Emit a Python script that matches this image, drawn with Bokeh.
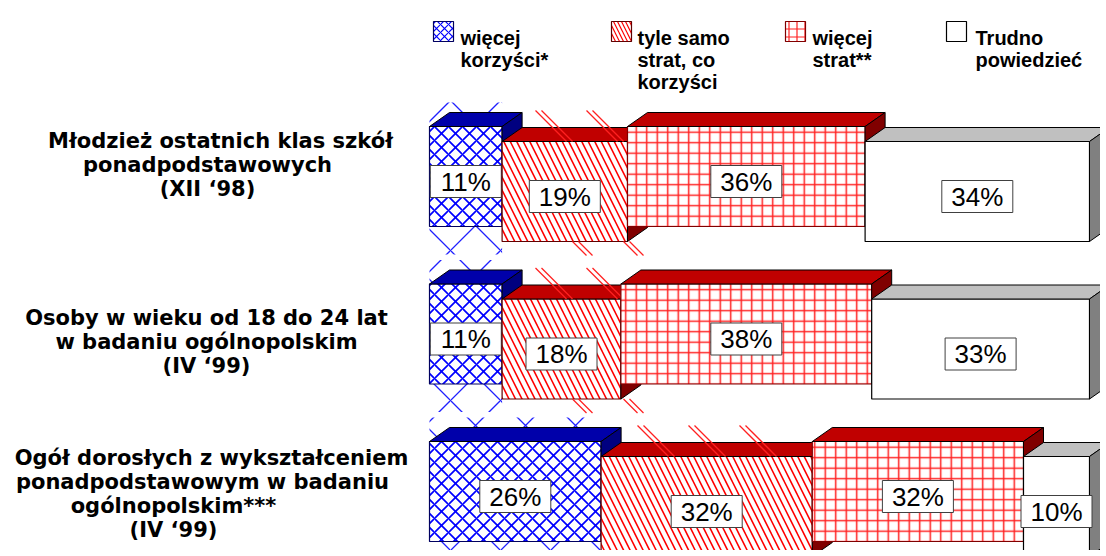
from bokeh.plotting import figure
from bokeh.models import Range1d
from bokeh.core.properties import value
from bokeh.embed import file_html
from bokeh.resources import INLINE

# ---------------- data ----------------
category_lines = [
    ["Młodzież ostatnich klas szkół", "ponadpodstawowych", "(XII ‘98)"],
    ["Osoby w wieku od 18 do 24 lat", "w badaniu ogólnopolskim", "(IV ‘99)"],
    ["Ogół dorosłych z wykształceniem", "ponadpodstawowym w badaniu", "ogólnopolskim***", "(IV ‘99)"],
]
series_names = ["więcej korzyści*", "tyle samo strat, co korzyści", "więcej strat**", "Trudno powiedzieć"]
legend_lines = [["więcej", "korzyści*"], ["tyle samo", "strat, co", "korzyści"], ["więcej", "strat**"], ["Trudno", "powiedzieć"]]
wiecej_korzysci = [11, 11, 26]
tyle_samo = [19, 18, 32]
wiecej_strat = [36, 38, 32]
trudno_powiedziec = [34, 33, 10]
series_values = [wiecej_korzysci, tyle_samo, wiecej_strat, trudno_powiedziec]

# ---------------- styles ----------------
hatch_patterns = ["diagonal_cross", "left_diagonal_line", "cross", " "]
hatch_colors = ["#0000FF", "#FF0000", "#FF2020", "#FFFFFF"]
hatch_scales = [14, 13, 10.5, 10]
hatch_weights = [1.7, 1.6, 1.5, 1]
top_colors = ["#0000AA", "#C00000", "#C00000", "#C0C0C0"]
side_colors = ["#000080", "#800000", "#800000", "#808080"]
edge_colors = ["#000060", "#600000", "#800000", "#000000"]

W, H = 1100, 550
PX = 6.6            # pixels per percent
X0 = 429            # page x of 0 %
ROWPX = 157.5       # pixels between rows
Y0 = 176            # page y of first row centre

def px2x(px):
    return (px - X0) / PX

def py2y(py):
    return (py - Y0) / ROWPX

BAR_H = 100 / ROWPX
DX = 20 / PX
DY = 14 / ROWPX
STAGGER = 15 / ROWPX

p = figure(width=W, height=H, output_backend="svg", toolbar_location=None,
           x_range=Range1d(px2x(0), px2x(W)),
           y_range=Range1d(py2y(H), py2y(0)),
           min_border=0)
p.axis.visible = False
p.grid.visible = False
p.outline_line_color = None
p.background_fill_color = "white"
p.border_fill_color = "white"

# ---------------- bars ----------------
for s, vals in enumerate(series_values):
    lefts, rights, tops, bottoms, yc = [], [], [], [], []
    for r, v in enumerate(vals):
        left = sum(series_values[k][r] for k in range(s))
        right = left + v
        c = r + (STAGGER if s % 2 == 1 else 0)
        lefts.append(left); rights.append(right)
        tops.append(c - BAR_H / 2); bottoms.append(c + BAR_H / 2); yc.append(c)

    # stray hatch strokes that spill outside the patterned boxes (as in the original rendering)
    if s == 0:
        p.quad(left=lefts, right=rights, top=[t - 24 / ROWPX for t in tops], bottom=tops,
               fill_alpha=0, line_alpha=0, hatch_pattern="diagonal_cross",
               hatch_color="#2020FF", hatch_scale=50, hatch_weight=1.3)
        p.quad(left=lefts, right=rights, top=bottoms, bottom=[b + 28 / ROWPX for b in bottoms],
               fill_alpha=0, line_alpha=0, hatch_pattern="diagonal_cross",
               hatch_color="#2020FF", hatch_scale=50, hatch_weight=1.3)

    p.quad(left=lefts, right=rights, top=tops, bottom=bottoms,
           fill_color="white", hatch_pattern=hatch_patterns[s], hatch_color=hatch_colors[s],
           hatch_scale=hatch_scales[s], hatch_weight=hatch_weights[s],
           line_color=edge_colors[s], line_width=1.2)
    top_xs = [[l, l + DX, rr + DX, rr] for l, rr in zip(lefts, rights)]
    top_ys = [[t, t - DY, t - DY, t] for t in tops]
    p.patches(top_xs, top_ys, fill_color=top_colors[s], line_color="black", line_width=1)

    if s == 1:
        # sparse double diagonal strokes above and below the hatched box
        x0s, y0s, x1s, y1s = [], [], [], []
        for l, rr, t, b in zip(lefts, rights, tops, bottoms):
            k = 0
            while True:
                gx = px2x(535 + 51 * k)
                k += 1
                if gx < l:
                    continue
                if gx + 30 / PX > rr:
                    break
                for off in (0, 6):
                    x0s.append(gx + off / PX); y0s.append(t - 31 / ROWPX)
                    x1s.append(gx + (off + 31) / PX); y1s.append(t)
                    x0s.append(gx + (off + 37) / PX); y0s.append(b)
                    x1s.append(gx + (off + 51) / PX); y1s.append(b + 14 / ROWPX)
        p.segment(x0=x0s, y0=y0s, x1=x1s, y1=y1s, line_color="#FF2020", line_width=1.3)

    side_xs = [[rr, rr + DX, rr + DX, rr] for rr in rights]
    side_ys = [[t, t - DY, b - DY, b] for t, b in zip(tops, bottoms)]
    p.patches(side_xs, side_ys, fill_color=side_colors[s], line_color="black", line_width=1)
    lx = [(l + rr) / 2 for l, rr in zip(lefts, rights)]
    ly = [c + 5 / ROWPX for c in yc]
    p.rect(x=lx, y=ly, width=71, height=32, width_units="screen", height_units="screen",
           fill_color="white", line_color="#404040", line_width=1)
    p.text(x=lx, y=ly, text=[f"{v}%" for v in vals], text_align="center", text_baseline="middle",
           text_font=value("Liberation Sans"), text_font_size="26px", text_color="black")

# ---------------- category labels ----------------
first_baselines = [140, 317, 457]
line_centres = [[220, 207, 207], [206, 206, 206], [211, 202, 173, 173]]
LINE_GAP = 24.3
for r, lines in enumerate(category_lines):
    xs = [px2x(c) for c in line_centres[r]]
    ys = [py2y(first_baselines[r] + i * LINE_GAP) for i in range(len(lines))]
    p.text(x=xs, y=ys, text=lines, text_align="center", text_baseline="alphabetic",
           text_font=value("DejaVu Sans"), text_font_style="bold", text_font_size="21px",
           text_color="black")

# ---------------- legend ----------------
sw_left = [433, 611, 785, 946]
txt_left = [460, 637, 812, 975]
for s, name in enumerate(series_names):
    p.rect(x=[px2x(sw_left[s] + 10)], y=[py2y(31)], width=20, height=20,
           width_units="screen", height_units="screen",
           fill_color="white", hatch_pattern=hatch_patterns[s], hatch_color=hatch_colors[s],
           hatch_scale=8, hatch_weight=1.2, line_color=edge_colors[s], line_width=1.2)
    lines = legend_lines[s]
    p.text(x=[px2x(txt_left[s])] * len(lines), y=[py2y(37 + i * 22) for i in range(len(lines))],
           text=lines, text_align="left", text_baseline="alphabetic",
           text_font=value("Liberation Sans"), text_font_style="bold", text_font_size="20px",
           text_color="black")

open("out.html", "w").write(file_html(p, INLINE))
